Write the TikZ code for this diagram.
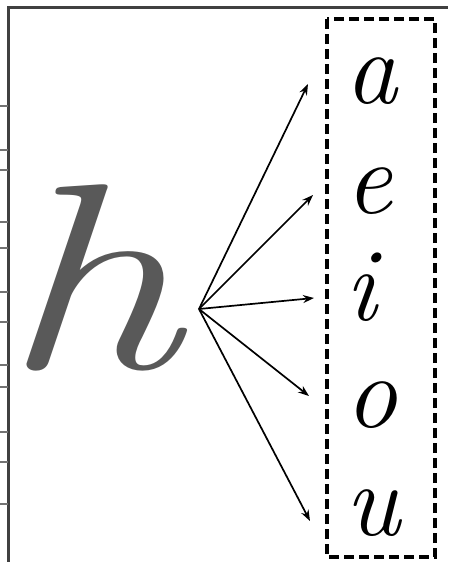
\documentclass[tikz,border=0pt]{standalone}
\usepackage{tikz}
\usepackage{xcolor}
\usetikzlibrary{arrows.meta}

\begin{document}
\begin{tikzpicture}[
  x=1pt,y=-1pt,
  frame/.style={draw=black!75,line width=3pt},
  tick/.style={draw=black!55,line width=2pt},
  vowel/.style={inner sep=0pt,anchor=base west,font=\fontsize{104}{104}\selectfont\itshape},
  bigh/.style={inner sep=0pt,anchor=base west,text=black!65,font=\fontsize{265}{265}\selectfont\itshape},
  arr/.style={-{Stealth[length=11pt,width=8pt]},line width=1.7pt},
  vbox/.style={draw,line width=3.4pt,dash pattern=on 10pt off 5pt}
]
  \useasboundingbox (0,0) rectangle (448,562);
  % frame and ruler ticks
  \draw[frame] (8.5,562) -- (8.5,7) -- (448,7);
  \draw[tick] (0,106) -- (8,106);
  \draw[tick] (0,150) -- (8,150);
  \draw[tick] (0,170) -- (8,170);
  \draw[tick] (0,222) -- (8,222);
  \draw[tick] (0,248) -- (8,248);
  \draw[tick] (0,292) -- (8,292);
  \draw[tick] (0,322) -- (8,322);
  \draw[tick] (0,365) -- (8,365);
  \draw[tick] (0,387) -- (8,387);
  \draw[tick] (0,432) -- (8,432);
  \draw[tick] (0,462) -- (8,462);
  \draw[tick] (0,504) -- (8,504);
  % consonant
  \node[bigh] (h) at (0,368) {\scalebox{1.35}[1]{h}};
  \coordinate (src) at (199,309);
  % vowels
  \draw[vbox] (327,19) rectangle (435,557);
  \node[vowel] (a) at (345,103) {a};
  \node[vowel] (e) at (345,213) {e};
  \node[vowel] (i) at (345,320) {i};
  \node[vowel] (o) at (345,427) {o};
  \node[vowel] (u) at (345,535) {u};
  \coordinate (ta) at (308,84);
  \coordinate (te) at (313,195);
  \coordinate (ti) at (314,298);
  \coordinate (to) at (309,396);
  \coordinate (tu) at (310,521);
  \draw[arr] (src) -- (ta);
  \draw[arr] (src) -- (te);
  \draw[arr] (src) -- (ti);
  \draw[arr] (src) -- (to);
  \draw[arr] (src) -- (tu);
\end{tikzpicture}
\end{document}
